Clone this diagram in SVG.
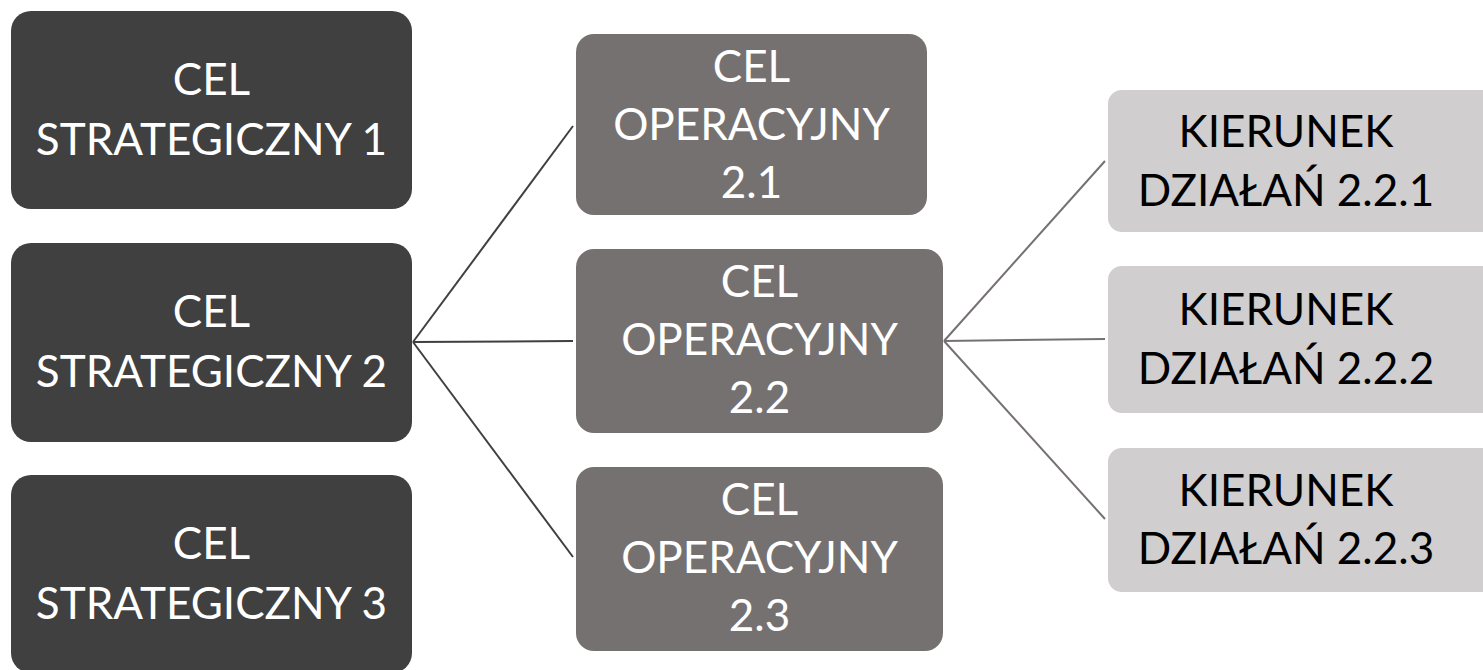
<svg xmlns="http://www.w3.org/2000/svg" width="1483" height="670" viewBox="0 0 1483 670">
<style>
.s{fill:#404040}
.o{fill:#767171}
.k{fill:#d0cece}
text{font-family:Lato,"Open Sans","Noto Sans",sans-serif;font-size:44px;text-anchor:middle}
.w{fill:#ffffff}
.b{fill:#000000}
.c1{stroke:#404040;stroke-width:2;fill:none}
.c2{stroke:#767171;stroke-width:2;fill:none}
</style>
<rect width="1483" height="670" fill="#ffffff"/>
<g id="connectors">
<line class="c1" x1="413" y1="342" x2="573" y2="126"/>
<line class="c1" x1="413" y1="342" x2="573" y2="341"/>
<line class="c1" x1="413" y1="342" x2="573" y2="557"/>
<line class="c2" x1="944" y1="341" x2="1105" y2="161"/>
<line class="c2" x1="944" y1="341" x2="1105" y2="339"/>
<line class="c2" x1="944" y1="341" x2="1105" y2="519"/>
</g>
<g id="s1"><rect class="s" x="11" y="11" width="401" height="198" rx="20"/>
<text class="w" x="211.5" y="95">CEL</text><text class="w" x="211.5" y="155">STRATEGICZNY 1</text></g>
<g id="s2"><rect class="s" x="11" y="243" width="401" height="199" rx="20"/>
<text class="w" x="211.5" y="327">CEL</text><text class="w" x="211.5" y="387">STRATEGICZNY 2</text></g>
<g id="s3"><rect class="s" x="11" y="475" width="401" height="198" rx="20"/>
<text class="w" x="211.5" y="559">CEL</text><text class="w" x="211.5" y="619">STRATEGICZNY 3</text></g>
<g id="o21"><rect class="o" x="576" y="34" width="351" height="181" rx="18"/>
<text class="w" x="751.5" y="82">CEL</text><text class="w" x="751.5" y="140">OPERACYJNY</text><text class="w" x="751.5" y="198">2.1</text></g>
<g id="o22"><rect class="o" x="576" y="249" width="367" height="184" rx="18"/>
<text class="w" x="759.5" y="297">CEL</text><text class="w" x="759.5" y="355">OPERACYJNY</text><text class="w" x="759.5" y="413">2.2</text></g>
<g id="o23"><rect class="o" x="576" y="467" width="367" height="184" rx="18"/>
<text class="w" x="759.5" y="515">CEL</text><text class="w" x="759.5" y="573">OPERACYJNY</text><text class="w" x="759.5" y="631">2.3</text></g>
<g id="k1"><rect class="k" x="1108" y="90" width="400" height="142" rx="14"/>
<text class="b" x="1286" y="147">KIERUNEK</text><text class="b" x="1286" y="206">DZIAŁAŃ 2.2.1</text></g>
<g id="k2"><rect class="k" x="1108" y="266" width="400" height="147" rx="14"/>
<text class="b" x="1286" y="325">KIERUNEK</text><text class="b" x="1286" y="384">DZIAŁAŃ 2.2.2</text></g>
<g id="k3"><rect class="k" x="1108" y="448" width="400" height="144" rx="14"/>
<text class="b" x="1286" y="506">KIERUNEK</text><text class="b" x="1286" y="564">DZIAŁAŃ 2.2.3</text></g>
</svg>
